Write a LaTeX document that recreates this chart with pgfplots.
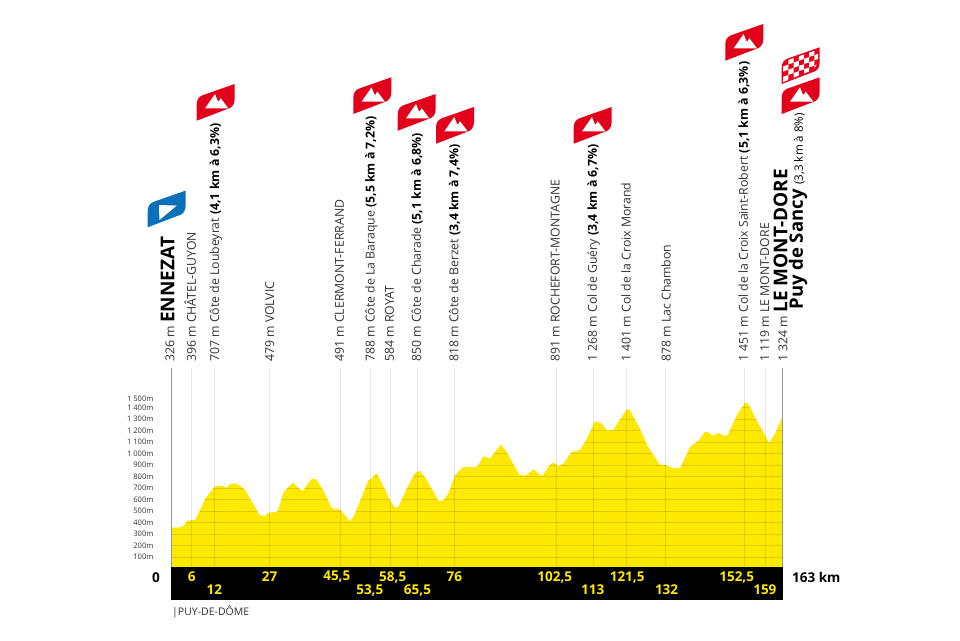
\documentclass[border=0pt]{standalone}
\usepackage{fontspec}
\setmainfont{Open Sans}
\usepackage{pgfplots}
\usepackage{pgfplotstable}
\pgfplotsset{compat=1.18}
\definecolor{tdfyellow}{HTML}{FFE900}
\definecolor{tdfred}{HTML}{E2001A}
\definecolor{tdfblue}{HTML}{0A70B9}
\definecolor{txt}{HTML}{333333}
\pgfplotstableread{
km m
0 358
1.95 358
3.3 370
4.2 416
6.4 425
7.7 509
9.1 610
11.7 717
13.9 720
14.8 703
15.7 738
17.5 741
19.7 689
21.9 567
23.7 465
25.1 459
25.9 488
28.2 491
29.1 567
29.9 662
31.3 712
32.6 749
33.9 706
35.1 677
36.2 726
37.5 784
38.8 775
40.6 683
42.8 532
43.7 515
45.0 517
47.7 413
48.6 451
50.8 625
52.6 770
53.5 784
54.8 833
56.1 755
58.4 596
59.7 532
60.6 538
62.8 697
65.0 833
66.4 851
67.7 799
69.5 697
71.3 590
72.6 596
73.9 654
75.7 813
77.9 886
79.7 886
81.0 880
81.9 900
83.2 978
85.0 958
86.4 1016
87.9 1083
89.5 1016
91.2 915
93.0 813
94.4 810
96.7 865
98.4 813
99.1 810
100.6 891
101.9 926
103.2 891
104.6 915
106.8 1016
109.0 1031
110.8 1132
113.0 1283
114.8 1262
116.3 1201
117.9 1210
121.4 1384
122.3 1384
125.0 1219
127.2 1059
130.3 906
132.1 900
133.9 871
135.7 877
138.3 1059
140.5 1112
142.3 1190
143.2 1187
144.5 1155
145.9 1181
147.2 1158
148.3 1158
150.8 1335
153.0 1445
153.9 1436
156.1 1292
157.9 1190
159.4 1094
161.0 1175
163.0 1326
}\profile
\newcommand\fs[1]{\fontsize{#1}{#1}\selectfont}
\newcommand\flagshape{(0,0) -- (0,16) .. controls (0,21) and (2,24) .. (6,25.5) -- (38,36.7) -- (38,22) .. controls (38,16) and (35,12.5) .. (30,11.5) -- cycle}
\newcommand\redflag[2]{\begin{scope}[x=1pt,y=1pt,shift={(#1,640-#2)}]
\fill[tdfred] \flagshape;
\fill[white] (8.3,12.3) -- (18.3,26.7) -- (20.7,20.5) -- (22,19) -- (24,22.5) -- (31.7,12.3) -- cycle;
\end{scope}}
\newcommand\blueflag[2]{\begin{scope}[x=1pt,y=1pt,shift={(#1,640-#2)}]
\fill[tdfblue] \flagshape;
\fill[white] (11.3,22.3) -- (29,21.7) -- (11.7,7.3) -- cycle;
\end{scope}}
\newcommand\checkflag[2]{\begin{scope}[x=1pt,y=1pt,shift={(#1,640-#2)}]
\fill[tdfred] \flagshape;
\begin{scope}
\clip (1.5,2) -- (1.5,20) -- (5,23.5) -- (36.5,34.5) -- (36.5,21) -- (31,14) -- cycle;
\foreach \i in {0,...,6}{\foreach \j in {0,...,4}{
\pgfmathparse{int(mod(\i+\j,2))}
\ifnum\pgfmathresult=0
\fill[white] ({1.5+\i*5.2},{2+\j*5.2+\i*5.2*0.36}) -- ++(5.2,1.9) -- ++(0,5.2) -- ++(-5.2,-1.9) -- cycle;
\fi}}
\end{scope}
\end{scope}}
\newcommand\lab[3][1795]{\node[rotate=90,anchor=base west,inner sep=0pt,text=txt] at (axis cs:#2,#1) {\fs{12.3}#3};}
\begin{document}
\begin{tikzpicture}
\path[use as bounding box] (0,0) rectangle (960pt,640pt);
\begin{axis}[
  at={(171pt,40pt)},anchor=south west,
  scale only axis,width=611.5pt,height=231.95pt,
  xmin=0,xmax=163,ymin=-274,ymax=1743,
  clip=false,axis on top,
  axis line style={draw=none},
  major tick length=0pt,
  ytick={100,200,300,400,500,600,700,800,900,1000,1100,1200,1300,1400,1474},
  yticklabels={100m,200m,300m,400m,500m,600m,700m,800m,900m,1 000m,1 100m,1 200m,1 300m,1 400m,1 500m},
  yticklabel style={anchor=east,xshift=-14pt,font=\fs{7.6},text=txt},
  xtick={5.5,26.3,44.2,59.1,75.5,102.3,121.6,150.8},
  xticklabels={6,27,{45,5},{58,5},76,{102,5},{121,5},{152,5}},
  xticklabel style={anchor=center,yshift=23pt,font=\bfseries\fs{13.5},text=tdfyellow},
  extra x ticks={11.55,53.0,65.7,112.4,132.1,158.3},
  extra x tick labels={12,{53,5},{65,5},113,132,159},
  extra x tick style={xticklabel style={anchor=center,yshift=-13pt,font=\bfseries\fs{13.5},text=tdfyellow}},
]
\addplot[fill=tdfyellow,draw=none] table[x=km,y=m] {\profile} \closedcycle;
\pgfplotsinvokeforeach{100,200,300,400,500,600,700,800,900,1000,1100,1200,1300,1400,1500}{
  \addplot[black,opacity=0.13,line width=0.6pt] coordinates {(0,#1)(163,#1)};
}
\addplot[fill=white,draw=none] table[x=km,y=m] {\profile} -- (axis cs:163,1743) -- (axis cs:0,1743) -- cycle;
\pgfplotsinvokeforeach{5.4,11.55,26.2,45.1,53.2,58.4,65.7,75.5,102.6,112.65,121.45,131.9,152.8,158.4}{
  \addplot[black,opacity=0.11,line width=0.7pt] coordinates {(#1,0)(#1,1743)};
}
\addplot[black!40,line width=0.7pt] coordinates {(0,0)(0,1743)};
\addplot[black!40,line width=0.7pt] coordinates {(163,0)(163,1743)};
\addplot[fill=black,draw=none] coordinates {(0,-274)(163,-274)(163,10)(0,10)} -- cycle;
\lab{0.9}{326 m \textcolor{black}{\bfseries\fs{19}ENNEZAT}}
\lab{6.6}{396 m CHÂTEL-GUYON}
\lab{12.8}{707 m Côte de Loubeyrat \textcolor{black}{\bfseries(4,1 km à 6,3\%)}}
\lab{27.5}{479 m VOLVIC}
\lab{46.1}{491 m CLERMONT-FERRAND}
\lab{54.3}{788 m Côte de La Baraque \textcolor{black}{\bfseries(5,5 km à 7,2\%)}}
\lab{59.4}{584 m ROYAT}
\lab{66.6}{850 m Côte de Charade \textcolor{black}{\bfseries(5,1 km à 6,8\%)}}
\lab{76.6}{818 m Côte de Berzet \textcolor{black}{\bfseries(3,4 km à 7,4\%)}}
\lab{103.6}{891 m ROCHEFORT-MONTAGNE}
\lab{113.5}{1 268 m Col de Guéry \textcolor{black}{\bfseries(3,4 km à 6,7\%)}}
\lab{122.5}{1 401 m Col de la Croix Morand}
\lab{133.2}{878 m Lac Chambon}
\lab{153.8}{1 451 m Col de la Croix Saint-Robert \textcolor{black}{\bfseries(5,1 km à 6,3\%)}}
\lab{159.4}{1 119 m LE MONT-DORE}
\lab{164.3}{1 324 m \textcolor{black}{\bfseries\fs{19}LE MONT-DORE}}
\node[rotate=90,anchor=base west,inner sep=0pt,text=black] at (axis cs:168.4,2250) {\fs{18.5}\bfseries Puy de Sancy \mdseries\fs{11.6}(3,3 km à 8\%)};
\end{axis}
\redflag{196.7}{120.7}
\redflag{353.3}{114}
\redflag{397.7}{130.7}
\redflag{436}{143.7}
\redflag{573.7}{143.7}
\redflag{725.3}{60.7}
\redflag{781.7}{114}
\checkflag{781.7}{84}
\blueflag{147.7}{227.3}
\node[anchor=base east,inner sep=0pt] at (160pt,640pt-582pt) {\bfseries\fs{13.5}0};
\node[anchor=base west,inner sep=0pt] at (792pt,640pt-582pt) {\bfseries\fs{13.5}163 km};
\node[anchor=base west,inner sep=0pt,text=txt] at (172pt,640pt-615pt) {\fs{10.5}|PUY-DE-DÔME};
\end{tikzpicture}
\end{document}
